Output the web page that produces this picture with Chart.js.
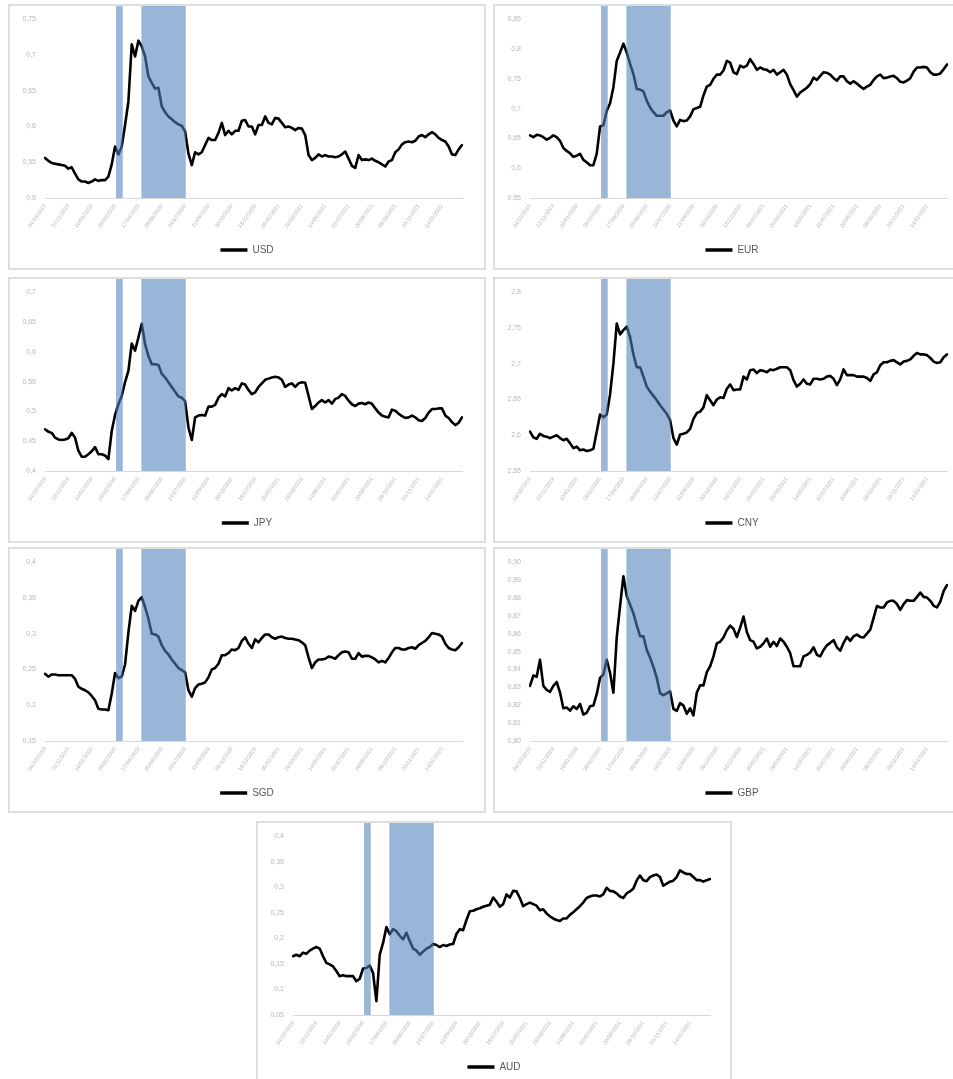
<!DOCTYPE html>
<html>
<head>
<meta charset="utf-8">
<script src="https://cdn.jsdelivr.net/npm/chart.js@4.4.1/dist/chart.umd.min.js"></script>
<style>
  html, body { margin: 0; padding: 0; background: #fff; }
  body { width: 953px; height: 1079px; overflow: hidden; position: relative; }
  .panel { position: absolute; box-sizing: border-box; width: 478px; height: 266px;
           border: 2px solid #dedede; background: #fff; }
  .panel canvas { display: block; }
</style>
</head>
<body>
<div class="panel" style="left:8px;top:4px"><canvas id="c-usd" width="474" height="262"></canvas></div>
<div class="panel" style="left:493px;top:4px"><canvas id="c-eur" width="474" height="262"></canvas></div>
<div class="panel" style="left:8px;top:277px"><canvas id="c-jpy" width="474" height="262"></canvas></div>
<div class="panel" style="left:493px;top:277px"><canvas id="c-cny" width="474" height="262"></canvas></div>
<div class="panel" style="left:8px;top:547px"><canvas id="c-sgd" width="474" height="262"></canvas></div>
<div class="panel" style="left:493px;top:547px"><canvas id="c-gbp" width="474" height="262"></canvas></div>
<div class="panel" style="left:256px;top:821px;width:476px"><canvas id="c-aud" width="472" height="262"></canvas></div>

<script>
// Weekly observations; every 7th week carries a date label on the axis.
const tickDates = ['04/10/2019','22/11/2019','10/01/2020','28/02/2020','17/04/2020','05/06/2020',
  '24/07/2020','11/09/2020','30/10/2020','18/12/2020','05/02/2021','26/03/2021',
  '14/05/2021','02/07/2021','20/08/2021','08/10/2021','26/11/2021','14/01/2022'];

// Shaded periods, as [first week, last week] on the weekly index
const shadedWeeks = [[21.3, 23.3], [28.9, 42.2]];

const usd = [0.556,0.552,0.549,0.548,0.547,0.546,0.545,0.541,0.543,0.534,
  0.526,0.523,0.523,0.521,0.523,0.526,0.524,0.525,0.525,0.530,
  0.547,0.572,0.561,0.572,0.602,0.635,0.715,0.698,0.720,0.712,
  0.698,0.670,0.661,0.653,0.654,0.628,0.620,0.614,0.610,0.606,
  0.603,0.601,0.593,0.562,0.546,0.564,0.561,0.564,0.574,0.584,
  0.581,0.581,0.591,0.605,0.588,0.594,0.589,0.594,0.594,0.608,
  0.609,0.600,0.600,0.589,0.602,0.602,0.614,0.605,0.603,0.612,
  0.611,0.605,0.599,0.600,0.598,0.595,0.598,0.597,0.588,0.560,
  0.553,0.556,0.561,0.558,0.560,0.558,0.558,0.557,0.558,0.561,
  0.565,0.555,0.545,0.542,0.560,0.553,0.554,0.553,0.555,0.552,
  0.550,0.547,0.544,0.551,0.553,0.564,0.568,0.575,0.578,0.579,
  0.578,0.580,0.586,0.588,0.585,0.589,0.592,0.589,0.584,0.581,
  0.579,0.572,0.561,0.560,0.568,0.574];

const eur = [0.655,0.652,0.656,0.655,0.652,0.648,0.651,0.655,0.652,0.646,
  0.634,0.629,0.625,0.619,0.621,0.624,0.614,0.610,0.605,0.605,
  0.624,0.670,0.672,0.696,0.709,0.736,0.780,0.794,0.809,0.794,
  0.775,0.758,0.733,0.732,0.729,0.713,0.702,0.694,0.688,0.688,
  0.688,0.694,0.697,0.680,0.670,0.681,0.679,0.680,0.687,0.699,
  0.701,0.703,0.722,0.737,0.740,0.750,0.757,0.757,0.764,0.780,
  0.777,0.761,0.758,0.772,0.769,0.772,0.783,0.775,0.765,0.769,
  0.766,0.765,0.761,0.765,0.757,0.761,0.765,0.757,0.741,0.731,
  0.720,0.727,0.731,0.735,0.741,0.752,0.748,0.755,0.761,0.760,
  0.757,0.751,0.747,0.754,0.754,0.746,0.742,0.746,0.742,0.737,
  0.733,0.737,0.740,0.748,0.754,0.757,0.751,0.752,0.754,0.755,
  0.751,0.745,0.744,0.747,0.751,0.762,0.769,0.769,0.770,0.769,
  0.761,0.757,0.757,0.759,0.766,0.774];

const jpy = [0.470,0.466,0.464,0.456,0.453,0.452,0.453,0.455,0.464,0.456,
  0.434,0.424,0.424,0.428,0.433,0.440,0.428,0.428,0.426,0.420,
  0.467,0.494,0.512,0.526,0.549,0.568,0.614,0.602,0.624,0.647,
  0.613,0.593,0.579,0.579,0.578,0.563,0.557,0.549,0.541,0.533,
  0.525,0.523,0.517,0.473,0.452,0.490,0.493,0.494,0.493,0.508,
  0.508,0.511,0.523,0.529,0.525,0.539,0.535,0.539,0.536,0.547,
  0.545,0.536,0.529,0.532,0.541,0.547,0.553,0.555,0.557,0.558,
  0.557,0.553,0.541,0.545,0.547,0.541,0.547,0.549,0.548,0.526,
  0.504,0.509,0.515,0.519,0.515,0.519,0.513,0.521,0.523,0.529,
  0.526,0.518,0.512,0.509,0.513,0.514,0.512,0.515,0.513,0.505,
  0.498,0.493,0.491,0.490,0.503,0.501,0.496,0.492,0.489,0.490,
  0.493,0.490,0.485,0.484,0.489,0.498,0.504,0.504,0.505,0.505,
  0.493,0.489,0.482,0.477,0.481,0.490];

const cny = [2.605,2.597,2.595,2.602,2.599,2.598,2.596,2.598,2.600,2.596,
  2.593,2.595,2.589,2.582,2.584,2.579,2.580,2.578,2.579,2.581,
  2.605,2.629,2.625,2.629,2.657,2.700,2.756,2.741,2.747,2.752,
  2.737,2.713,2.695,2.695,2.682,2.668,2.661,2.655,2.649,2.642,
  2.636,2.630,2.621,2.596,2.587,2.601,2.602,2.604,2.609,2.623,
  2.631,2.633,2.639,2.656,2.649,2.642,2.650,2.653,2.652,2.665,
  2.671,2.663,2.664,2.664,2.682,2.678,2.691,2.692,2.687,2.691,
  2.690,2.688,2.692,2.691,2.693,2.695,2.695,2.695,2.691,2.677,
  2.668,2.672,2.678,2.672,2.671,2.679,2.679,2.678,2.679,2.682,
  2.683,2.679,2.670,2.678,2.692,2.684,2.684,2.684,2.682,2.682,
  2.682,2.680,2.676,2.685,2.688,2.698,2.702,2.702,2.704,2.705,
  2.702,2.699,2.703,2.704,2.706,2.711,2.715,2.713,2.713,2.712,
  2.708,2.703,2.701,2.702,2.709,2.713];

const sgd = [0.244,0.240,0.243,0.243,0.242,0.242,0.242,0.242,0.242,0.237,
  0.226,0.223,0.221,0.218,0.213,0.207,0.195,0.194,0.194,0.193,
  0.216,0.245,0.238,0.240,0.257,0.302,0.339,0.332,0.346,0.351,
  0.337,0.321,0.300,0.299,0.296,0.284,0.276,0.271,0.264,0.258,
  0.252,0.249,0.246,0.221,0.212,0.224,0.229,0.230,0.232,0.239,
  0.250,0.252,0.258,0.270,0.270,0.273,0.278,0.277,0.280,0.290,
  0.295,0.286,0.280,0.292,0.288,0.294,0.299,0.299,0.295,0.293,
  0.295,0.296,0.294,0.293,0.293,0.292,0.291,0.288,0.284,0.267,
  0.252,0.260,0.264,0.264,0.265,0.268,0.267,0.265,0.270,0.274,
  0.275,0.274,0.265,0.265,0.273,0.268,0.269,0.269,0.267,0.264,
  0.260,0.262,0.260,0.266,0.274,0.280,0.280,0.278,0.278,0.280,
  0.281,0.279,0.284,0.287,0.290,0.295,0.301,0.300,0.299,0.296,
  0.286,0.280,0.278,0.277,0.281,0.287];

const gbp = [0.8308,0.8366,0.8359,0.8454,0.8308,0.8286,0.8275,0.8308,0.8330,0.8271,
  0.8183,0.8187,0.8170,0.8194,0.8179,0.8207,0.8148,0.8158,0.8194,0.8198,
  0.8262,0.8353,0.8372,0.8454,0.8380,0.8270,0.8579,0.8756,0.8921,0.8811,
  0.8762,0.8714,0.8647,0.8586,0.8586,0.8509,0.8465,0.8414,0.8353,0.8267,
  0.8256,0.8267,0.8277,0.8179,0.8168,0.8212,0.8198,0.8152,0.8183,0.8143,
  0.8271,0.8311,0.8311,0.8385,0.8418,0.8473,0.8546,0.8555,0.8579,0.8619,
  0.8645,0.8628,0.8582,0.8634,0.8696,0.8610,0.8564,0.8555,0.8518,0.8527,
  0.8546,0.8573,0.8527,0.8555,0.8531,0.8573,0.8555,0.8527,0.8491,0.8418,
  0.8418,0.8418,0.8473,0.8482,0.8495,0.8524,0.8482,0.8473,0.8509,0.8535,
  0.8549,0.8564,0.8524,0.8505,0.8549,0.8582,0.8560,0.8586,0.8595,0.8582,
  0.8579,0.8601,0.8623,0.8689,0.8755,0.8747,0.8747,0.8775,0.8784,0.8784,
  0.8766,0.8733,0.8766,0.8788,0.8784,0.8784,0.8806,0.8830,0.8806,0.8802,
  0.8784,0.8756,0.8747,0.8780,0.8839,0.8872];

const aud = [0.165,0.168,0.165,0.172,0.170,0.176,0.180,0.183,0.180,0.165,
  0.152,0.149,0.145,0.136,0.126,0.128,0.126,0.126,0.126,0.116,
  0.121,0.141,0.142,0.147,0.132,0.077,0.168,0.191,0.222,0.208,
  0.218,0.214,0.205,0.198,0.211,0.195,0.180,0.176,0.168,0.174,
  0.180,0.183,0.189,0.187,0.183,0.187,0.185,0.188,0.189,0.209,
  0.218,0.216,0.236,0.253,0.254,0.257,0.259,0.262,0.264,0.266,
  0.280,0.272,0.262,0.267,0.286,0.280,0.293,0.292,0.279,0.263,
  0.267,0.270,0.267,0.264,0.255,0.257,0.249,0.243,0.239,0.236,
  0.234,0.239,0.239,0.246,0.251,0.257,0.263,0.270,0.279,0.282,
  0.284,0.284,0.282,0.286,0.299,0.293,0.292,0.288,0.282,0.279,
  0.288,0.292,0.297,0.313,0.323,0.314,0.312,0.320,0.323,0.325,
  0.320,0.303,0.307,0.311,0.313,0.320,0.333,0.329,0.326,0.326,
  0.320,0.314,0.314,0.311,0.314,0.316];

// Category labels: a date on every 7th week, blank otherwise
const weekLabels = usd.map((_, i) => tickDates[i / 7] ?? '');

Chart.defaults.font.family = "'Liberation Sans', Arial, sans-serif";

// Draws the shaded periods over the plotted line, from the top of the canvas to the axis
const shadePlugin = {
  id: 'shade',
  afterDatasetsDraw(chart, args, opts) {
    const { ctx, chartArea, scales: { x } } = chart;
    ctx.save();
    ctx.fillStyle = opts.color;
    for (const [a, b] of opts.spans) {
      const x0 = x.getPixelForValue(a);
      const x1 = x.getPixelForValue(b);
      ctx.fillRect(x0, 0, x1 - x0, chartArea.bottom);
    }
    ctx.restore();
  }
};

const fmtGeneral = v => String(+v.toFixed(4)).replace('.', ',');
const fmtFixed2 = v => v.toFixed(2).replace('.', ',');

function drawPanel(id, name, values, min, max, step, fmt) {
  const canvas = document.getElementById(id);
  const H = canvas.height;
  const plotBottom = 192;
  const bottomPad = 3;
  new Chart(canvas, {
    type: 'line',
    data: {
      labels: weekLabels,
      datasets: [{
        label: name,
        data: values,
        borderColor: '#000',
        backgroundColor: '#000',
        borderWidth: 2.6,
        pointRadius: 0,
        tension: 0,
        borderJoinStyle: 'round',
        borderCapStyle: 'round'
      }]
    },
    options: {
      responsive: false,
      animation: false,
      events: [],
      layout: { padding: { top: 13, left: 0, right: 0, bottom: bottomPad } },
      scales: {
        x: {
          grid: { display: false, drawTicks: false },
          border: { display: true, color: '#d9d9d9', width: 1 },
          ticks: {
            autoSkip: false, minRotation: 55, maxRotation: 55, padding: 5,
            color: '#b8b8b8', font: { size: 5.5 }
          },
          afterFit(scale) {
            scale.height = H - bottomPad - scale.chart.legend.height - plotBottom;
          }
        },
        y: {
          min, max,
          grid: { display: false, drawTicks: false },
          border: { display: false },
          ticks: {
            stepSize: step, padding: 9, color: '#b8b8b8', font: { size: 7 },
            callback: v => fmt(v)
          },
          afterFit(scale) { scale.width = 35; }
        },
        yPad: {
          position: 'right',
          grid: { display: false, drawTicks: false },
          border: { display: false },
          ticks: { display: false },
          afterFit(scale) { scale.width = canvas.width - 452; }
        }
      },
      plugins: {
        tooltip: { enabled: false },
        shade: { spans: shadedWeeks, color: 'rgba(79,129,189,0.58)' },
        legend: {
          position: 'bottom',
          labels: {
            usePointStyle: true,
            pointStyle: 'line',
            pointStyleWidth: 27,
            boxHeight: 10,
            padding: 10,
            color: '#595959',
            font: { size: 10 },
            generateLabels(chart) {
              const items = Chart.defaults.plugins.legend.labels.generateLabels(chart);
              items.forEach(it => { it.lineWidth = 3.5; });
              return items;
            }
          }
        }
      }
    },
    plugins: [shadePlugin]
  });
}

drawPanel('c-usd', 'USD', usd, 0.5, 0.75, 0.05, fmtGeneral);
drawPanel('c-eur', 'EUR', eur, 0.55, 0.85, 0.05, fmtGeneral);
drawPanel('c-jpy', 'JPY', jpy, 0.4, 0.7, 0.05, fmtGeneral);
drawPanel('c-cny', 'CNY', cny, 2.55, 2.8, 0.05, fmtGeneral);
drawPanel('c-sgd', 'SGD', sgd, 0.15, 0.4, 0.05, fmtGeneral);
drawPanel('c-gbp', 'GBP', gbp, 0.80, 0.90, 0.01, fmtFixed2);
drawPanel('c-aud', 'AUD', aud, 0.05, 0.4, 0.05, fmtGeneral);
</script>
</body>
</html>
